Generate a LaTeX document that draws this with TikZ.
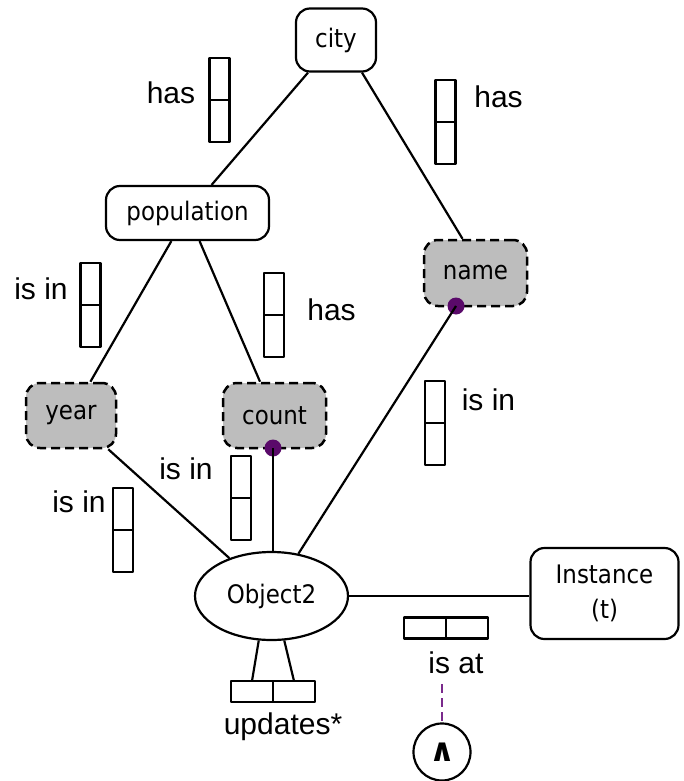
\documentclass[tikz,border=0pt]{standalone}
\usepackage{fontspec}
\setmainfont{Liberation Sans}
\newfontfamily\boxfont{DejaVu Sans}[FakeStretch=0.9]
\newfontfamily\opfont{DejaVu Sans}
\usetikzlibrary{shapes.geometric}

\definecolor{dotpurple}{HTML}{5A0A6A}
\definecolor{dashpurple}{HTML}{7A2A8C}
\definecolor{attrgray}{HTML}{BDBDBD}

\begin{document}
\begin{tikzpicture}[x=1pt,y=-1pt,
  line width=2.2pt, line join=round,
  concept/.style={draw, rounded corners=14pt, inner sep=0pt, align=center,
    font=\boxfont\fontsize{25.5}{35}\selectfont},
  attr/.style={concept, fill=attrgray, line width=2.5pt, dash pattern=on 9pt off 5pt},
  objnode/.style={draw, ellipse, inner sep=0pt, minimum width=153pt, minimum height=88pt,
    font=\boxfont\fontsize{25.5}{30}\selectfont},
  opnode/.style={draw, circle, inner sep=0pt, minimum size=57pt,
    font=\opfont\bfseries\fontsize{32}{36}\selectfont},
  lbl/.style={inner sep=0pt, anchor=base, font=\fontsize{30}{34}\selectfont},
  cell/.style={draw, inner sep=0pt, outer sep=0pt},
  dot/.style={circle, fill=dotpurple, draw=none, inner sep=0pt, minimum size=17pt},
  vcard/.pic={
    \node[cell, minimum width=20pt, minimum height=42pt] (-a) at (0,-21) {};
    \node[cell, minimum width=20pt, minimum height=42pt] (-b) at (0,21) {};
  },
  hcard/.pic={
    \node[cell, minimum width=42pt, minimum height=21pt] (-a) at (-21,0) {};
    \node[cell, minimum width=42pt, minimum height=21pt] (-b) at (21,0) {};
  }
]
\useasboundingbox (0,0) rectangle (683,781);

% concepts and attributes
\node[concept, minimum width=80pt, minimum height=63pt] (city) at (336,40) {city};
\node[concept, minimum width=163pt, minimum height=54pt] (pop) at (187.5,213) {population};
\node[attr, minimum width=103pt, minimum height=66pt] (name) at (475.5,273) {name};
\node[attr, minimum width=90pt, minimum height=65pt] (year) at (71,415.5) {year};
\node[attr, minimum width=103pt, minimum height=65pt] (count) at (274.5,415.5) {count};
\node[objnode] (obj) at (271.5,596) {Object2};
\node[concept, minimum width=148pt, minimum height=91pt] (inst) at (604.5,593.5) {Instance\\(t)};
\node[opnode] (andop) at (442,752) {∧};

% connection points on attribute borders
\node[dot] (namedot) at (456,306) {};
\node[dot] (countdot) at (273,448) {};
\coordinate (isattail) at (442,684);

% relations
\draw (city) -- (pop);
\draw ([xshift=26pt]city.south) -- ([xshift=-13pt]name.north);
\draw (pop) -- (year);
\draw (pop) -- (count);
\draw ([xshift=-9pt]year.south east) -- (obj);
\draw (countdot.center) -- (countdot.center |- obj.north);
\draw (namedot.center) -- (obj);
\draw (obj.east) -- (obj.east -| inst.west);

% cardinality boxes
\pic (c1) at (219.5,100) {vcard};
\pic (c2) at (445.5,122) {vcard};
\pic (c3) at (90.5,305) {vcard};
\pic (c4) at (274,315) {vcard};
\pic (c5) at (435,423) {vcard};
\pic (c6) at (241,498) {vcard};
\pic (c7) at (123,530) {vcard};
\pic (up) at (273,691.5) {hcard};
\pic (at) at (446,628) {hcard};

\draw (obj.-106) -- (up-a.north);
\draw (obj.-74) -- (up-b.north);

% relation labels
\node[lbl] (l1) at (171,103) {has};
\node[lbl] (l2) at (498.5,108) {has};
\node[lbl] (l3) at (41,299) {is in};
\node[lbl] (l4) at (331.5,320) {has};
\node[lbl] (l5) at (488.5,410) {is in};
\node[lbl] (l6) at (186,479) {is in};
\node[lbl] (l7) at (79,512) {is in};
\node[lbl] (l8) at (456,673) {is at};
\node[lbl] (l9) at (283,734) {updates*};

% temporal operator link
\draw[dashpurple, dash pattern=on 9pt off 5pt] (isattail) -- (isattail |- andop.north);
\end{tikzpicture}
\end{document}
